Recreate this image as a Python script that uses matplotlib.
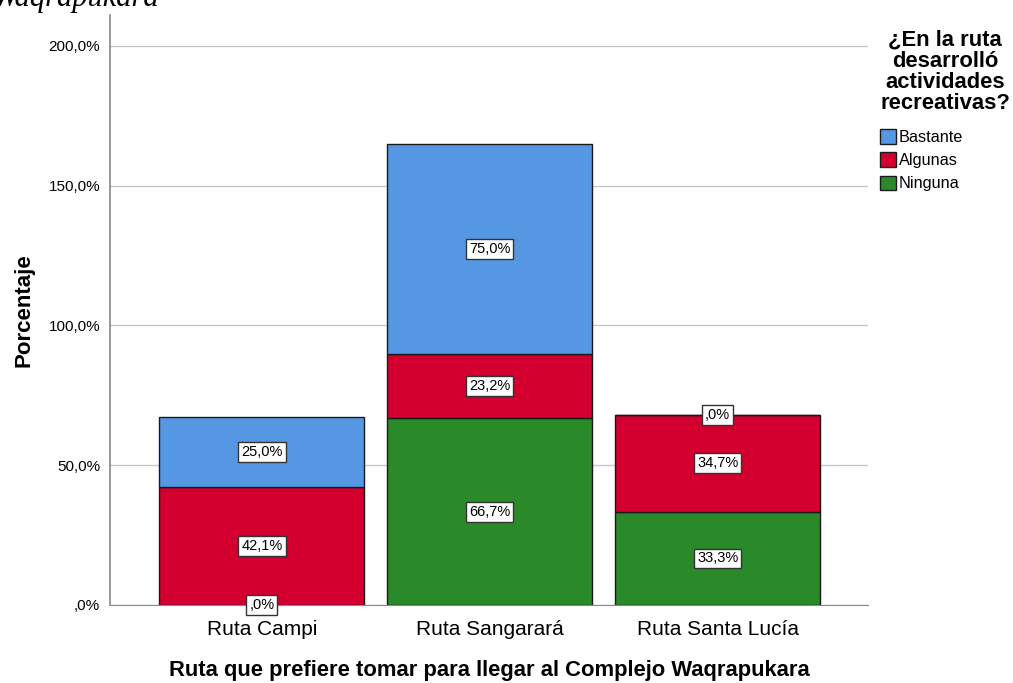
import matplotlib
matplotlib.use("Agg")
import matplotlib.pyplot as plt
import numpy as np

plt.rcParams['font.family'] = ['Liberation Sans', 'DejaVu Sans']

# datos
rutas = ["Ruta Campi", "Ruta Sangarará", "Ruta Santa Lucía"]
categorias = ["Bastante", "Algunas", "Ninguna"]
ninguna = [0.0, 66.7, 33.3]
algunas = [42.1, 23.2, 34.7]
bastante = [25.0, 75.0, 0.0]
yticks = [0, 50, 100, 150, 200]
ytick_labels = [",0%", "50,0%", "100,0%", "150,0%", "200,0%"]

colores = {"Bastante": "#5597e3", "Algunas": "#d3002f", "Ninguna": "#2a8a2a"}

W, H = 1013, 683
fig = plt.figure(figsize=(W / 100, H / 100), dpi=100)
ax = fig.add_axes([110 / W, (H - 605) / H, (868 - 110) / W, (605 - 15) / H])

x = np.arange(len(rutas))
ancho = 0.9
series = [("Ninguna", ninguna), ("Algunas", algunas), ("Bastante", bastante)]
base = np.zeros(len(rutas))
handles = {}
for nombre, vals in series:
    vals = np.array(vals)
    b = ax.bar(x, vals, ancho, bottom=base, color=colores[nombre],
               edgecolor="#1a1a1a", linewidth=1.0, zorder=3)
    handles[nombre] = b
    for xi, v, b0 in zip(x, vals, base):
        txt = f"{v:.1f}%".replace(".", ",")
        if txt.startswith("0,"):
            txt = txt[1:]
        ax.text(xi, b0 + v / 2, txt, ha="center", va="center", fontsize=10.5,
                zorder=5, bbox=dict(boxstyle="square,pad=0.2", fc="white",
                                    ec="#333333", lw=1.0))
    base = base + vals

ax.set_xlim(-0.667, 2.66)
ax.set_ylim(0, 211)
ax.set_yticks(yticks)
ax.set_yticklabels(ytick_labels, fontsize=11)
ax.set_xticks(x)
ax.set_xticklabels(rutas, fontsize=15)
ax.tick_params(axis="x", length=0, pad=11)
ax.tick_params(axis="y", length=0, pad=7)
ax.grid(axis="y", color="#c8c8c8", linewidth=1.0, zorder=0)
for s in ["top", "right"]:
    ax.spines[s].set_visible(False)
ax.spines["left"].set_color("#888888")
ax.spines["bottom"].set_color("#888888")
ax.spines["left"].set_linewidth(1.2)

ax.set_ylabel("Porcentaje", fontsize=16, fontweight="bold", labelpad=10)
ax.set_xlabel("Ruta que prefiere tomar para llegar al Complejo Waqrapukara",
              fontsize=15.8, fontweight="bold", labelpad=15)

leg = fig.legend([handles[c] for c in categorias], categorias,
                 title="¿En la ruta\ndesarrolló\nactividades\nrecreativas?",
                 loc="upper left", bbox_to_anchor=(880 / W, 1 - 30 / H),
                 frameon=False, fontsize=11.7, handlelength=1.0, handleheight=1.0,
                 handletextpad=0.15, labelspacing=0.45, borderaxespad=0,
                 borderpad=0, alignment="left")
leg.get_title().set_fontsize(15.8)
leg.get_title().set_fontweight("bold")
leg.get_title().set_multialignment("center")
leg.get_title().set_linespacing(1.0)
leg._legend_box.sep = 11

fig.text(-7 / W, 1 - 6 / H, "Waqrapukara", fontsize=22, style="italic",
         family="Liberation Serif", ha="left", va="baseline")

fig.savefig("out.png", dpi=100)
